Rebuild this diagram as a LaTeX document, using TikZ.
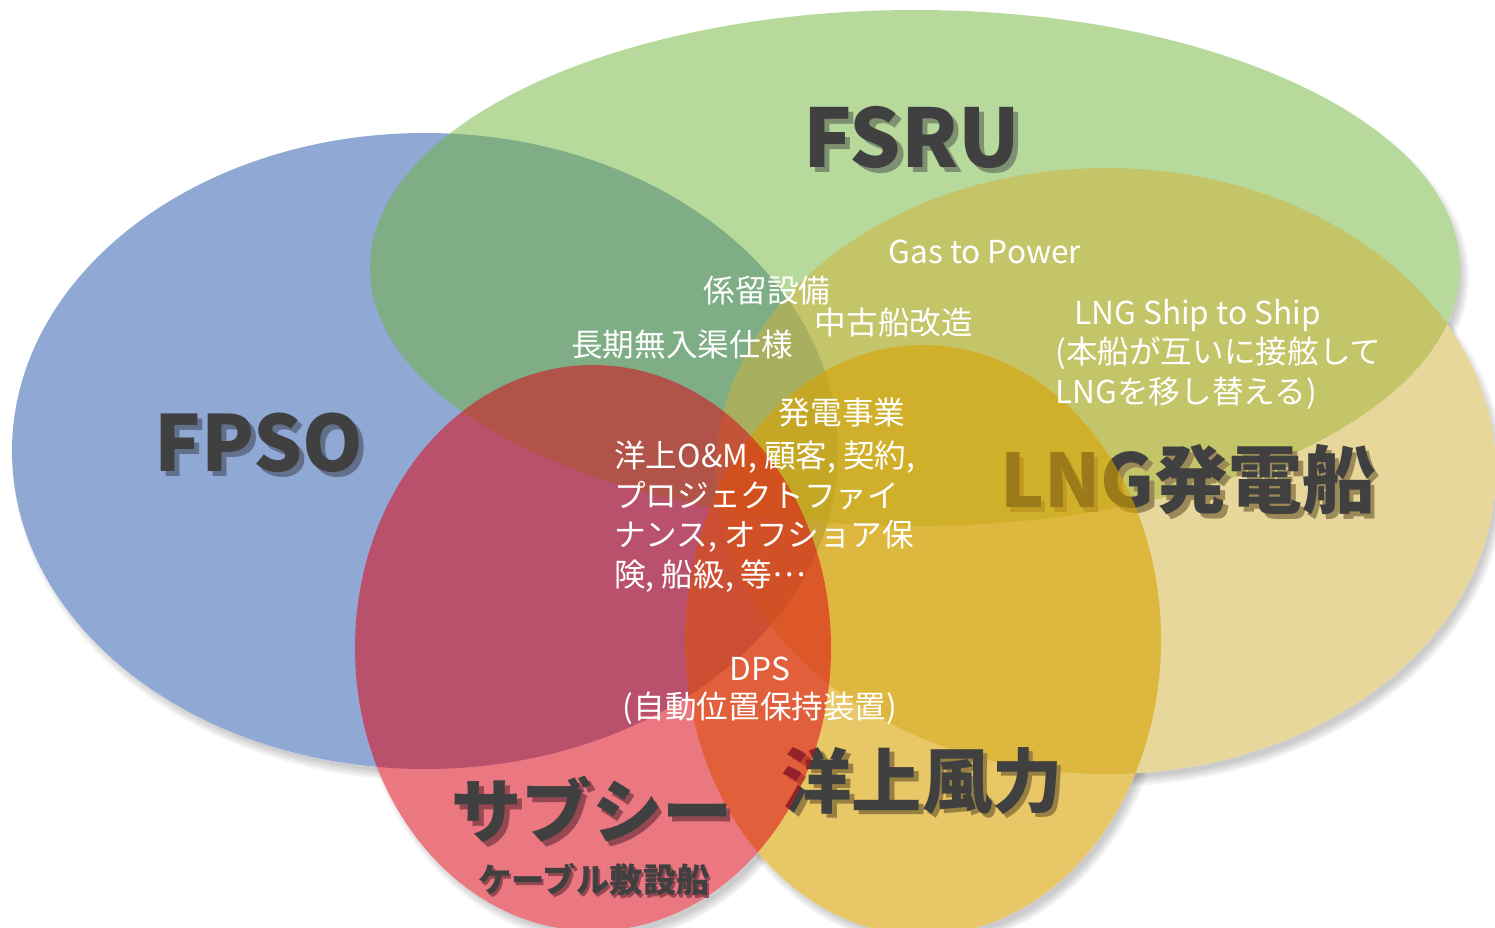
\documentclass[tikz,border=0pt]{standalone}
\usepackage{fontspec}
\setmainfont{Noto Sans CJK JP}
\definecolor{cblue}{RGB}{143,168,212}
\definecolor{cgreen}{RGB}{113,181,57}
\definecolor{ctan}{RGB}{209,177,57}
\definecolor{cgold}{RGB}{217,163,0}
\definecolor{cred}{RGB}{220,10,24}
\definecolor{labgray}{RGB}{64,64,64}
\definecolor{shgreen}{RGB}{125,145,112}
\definecolor{shblue}{RGB}{98,112,140}
\definecolor{shtan}{RGB}{155,138,88}
\definecolor{shred}{RGB}{150,72,82}
\definecolor{shgold}{RGB}{152,128,66}
\newcommand\shtxt[2]{\makebox[0pt][l]{\hspace{0.065em}\raisebox{-0.065em}{\textcolor{#1}{#2}}}#2}
\tikzset{
  wlab/.style={text=white, inner sep=0pt, font=\fontsize{18}{22.4}\selectfont},
  biglab/.style={text=labgray, inner sep=0pt},
}
\begin{document}
\begin{tikzpicture}[x=0.02cm,y=-0.02cm]
\useasboundingbox (0,0) rectangle (1495,927);
% soft shadows under all ellipses
\foreach \cx/\cy/\rx/\ry in {425/451/413/318, 915/268/545/258, 1106/471/390/303, 923/640/238/295, 593/648/238/283}{
  \foreach \k in {0,2,4,6,8}{
    \fill[black, fill opacity=0.045] ({\cx+5},{\cy+8}) ellipse [x radius={\rx+\k-4}, y radius={\ry+\k-4}];
  }
}
% white base of the union
\foreach \cx/\cy/\rx/\ry in {425/451/413/318, 915/268/545/258, 1106/471/390/303, 923/640/238/295, 593/648/238/283}{
  \fill[white] (\cx,\cy) ellipse [x radius=\rx, y radius=\ry];
}
% ellipses and their labels
\fill[cblue] (425,451) ellipse [x radius=413, y radius=318];
\node[biglab, font=\fontsize{44}{48}\selectfont\bfseries] (fpso) at (259,445) {\shtxt{shblue}{FPSO}};
\fill[cgreen, fill opacity=0.5] (915,268) ellipse [x radius=545, y radius=258];
\node[biglab, font=\fontsize{46}{50}\selectfont\bfseries] (fsru) at (912,140) {\shtxt{shgreen}{FSRU}};
\fill[ctan, fill opacity=0.5] (1106,471) ellipse [x radius=390, y radius=303];
\node[biglab, font=\fontsize{42}{46}\selectfont\bfseries] (lng) at (1188,482) {\shtxt{shtan}{LNG発電船}};
\fill[cgold, fill opacity=0.6] (923,640) ellipse [x radius=238, y radius=295];
\node[biglab, font=\fontsize{40}{44}\selectfont\bfseries] (wind) at (922,783) {\shtxt{shgold}{洋上風力}};
\fill[cred, fill opacity=0.55] (593,648) ellipse [x radius=238, y radius=283];
\node[biglab, font=\fontsize{40}{44}\selectfont\bfseries] (sub) at (592,812) {\shtxt{shred}{サブシー}};
\node[biglab, font=\fontsize{19}{22}\selectfont\bfseries] (cable) at (594,881) {\shtxt{shred}{ケーブル敷設船}};
% white labels
\node[wlab] (gtp) at (985,252) {Gas to Power};
\node[wlab] (moor) at (767,291) {係留設備};
\node[wlab] (conv) at (894,323) {中古船改造};
\node[wlab] (long) at (682,345) {長期無入渠仕様};
\node[wlab, anchor=north west, align=left] (sts) at (1055,299) {\hspace*{0.6em}LNG Ship to Ship\\(本船が互いに接舷して\\LNGを移し替える)};
\node[wlab] (power) at (842,413) {発電事業};
\node[wlab, anchor=north west, align=left] (om) at (614,441) {洋上O\&M, 顧客, 契約,\\プロジェクトファイ\\ナンス, オフショア保\\険, 船級, 等\raisebox{0.3em}{…}};
\node[wlab, align=center, font=\fontsize{18}{21.5}\selectfont] (dps) at (760,691) {DPS\\(自動位置保持装置)};
\end{tikzpicture}
\end{document}
